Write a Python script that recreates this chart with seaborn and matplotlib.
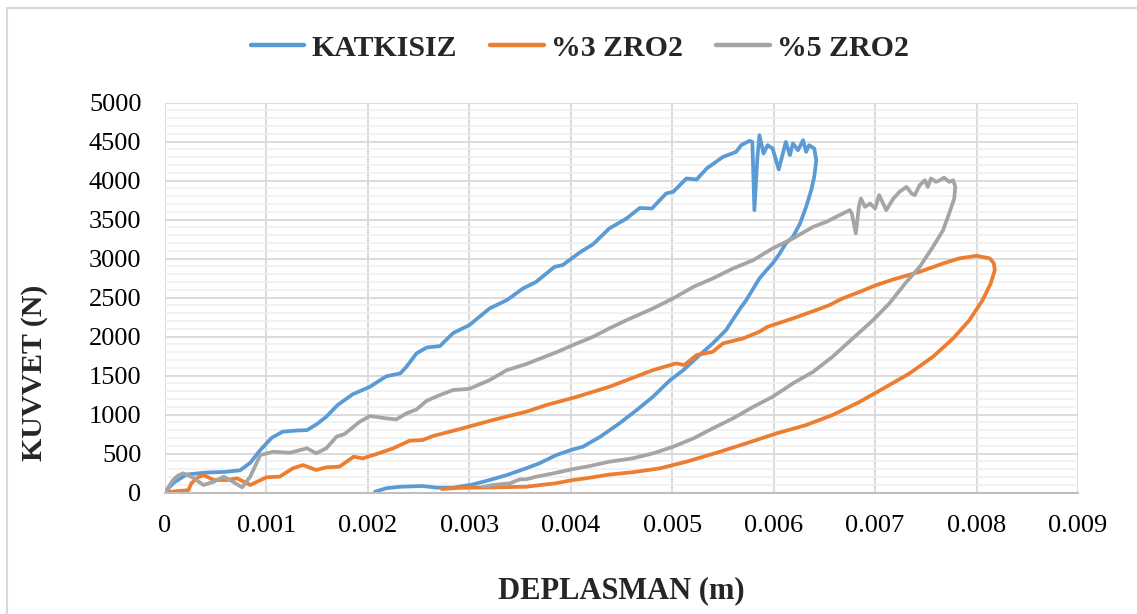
import numpy as np
import pandas as pd
import seaborn as sns
import matplotlib
matplotlib.use("Agg")
import matplotlib.pyplot as plt
from matplotlib.lines import Line2D
from matplotlib.ticker import MultipleLocator, FuncFormatter

# Load-displacement paths (loading branch followed by unloading branch)
series_names = ["KATKISIZ", "%3 ZRO2", "%5 ZRO2"]
series_colors = ["#5B9BD5", "#ED7D31", "#A5A5A5"]

katkisiz_x = [0, 0.00008, 0.00021, 0.0004, 0.0006, 0.00074, 0.00084, 0.00094, 0.00105, 0.00116,
              0.0013, 0.0014, 0.0015, 0.00159, 0.0017, 0.00185, 0.00202, 0.00218, 0.00232, 0.00238,
              0.00248, 0.00258, 0.00271, 0.00284, 0.003, 0.0032, 0.00337, 0.00353, 0.00366, 0.00384,
              0.00392, 0.00409, 0.00422, 0.00438, 0.00455, 0.00468, 0.0048, 0.00494, 0.00501, 0.00514,
              0.00524, 0.00534, 0.0055, 0.00563, 0.00568, 0.00576, 0.00579, 0.00581, 0.00584, 0.00586,
              0.0059, 0.00594, 0.00599, 0.00605, 0.00612, 0.00616, 0.00619, 0.00624, 0.00629, 0.00632,
              0.00635, 0.0064,
              0.00642, 0.0064, 0.00637, 0.00632, 0.00626, 0.00619, 0.00612, 0.00606, 0.00599, 0.00593,
              0.00586, 0.0058, 0.00573, 0.00567, 0.00553, 0.0054, 0.00527, 0.00511, 0.00498, 0.00481,
              0.00465, 0.00448, 0.00429, 0.00412, 0.004, 0.00386, 0.00369, 0.00356, 0.00337, 0.0032,
              0.00304, 0.00284, 0.00268, 0.00254, 0.00232, 0.00218, 0.00207]
katkisiz_y = [0, 120, 230, 255, 265, 285, 380, 545, 700, 780,
              795, 800, 880, 972, 1120, 1260, 1356, 1490, 1528, 1613,
              1785, 1860, 1878, 2045, 2147, 2361, 2468, 2618, 2703, 2895,
              2917, 3080, 3185, 3387, 3515, 3650, 3643, 3836, 3857, 4028,
              4015, 4156, 4305, 4369, 4455, 4510, 4497, 3622, 4305, 4583,
              4348, 4455, 4412, 4143, 4497, 4327, 4477, 4391, 4519, 4369,
              4455, 4412,
              4263, 4049, 3878, 3664, 3451, 3280, 3195, 3067, 2938, 2853,
              2746, 2618, 2468, 2361, 2083, 1913, 1763, 1570, 1442, 1228,
              1058, 887, 715, 587, 545, 481, 374, 310, 224, 160,
              105, 62, 62, 83, 74, 54, 10]

zro2_3_x = [0, 0.0001, 0.00023, 0.00026, 0.00032, 0.00038, 0.00048, 0.00061, 0.00071, 0.00084,
            0.001, 0.00113, 0.00126, 0.00136, 0.00149, 0.00159, 0.00172, 0.00186, 0.00195, 0.0021,
            0.00225, 0.00241, 0.00254, 0.00264, 0.00291, 0.00323, 0.00356, 0.00376, 0.00406, 0.00438,
            0.00481, 0.00504, 0.00512, 0.00524, 0.0054, 0.0055, 0.0057, 0.00586, 0.00594, 0.00619,
            0.00642, 0.00655, 0.00668, 0.00685, 0.00701, 0.00718, 0.00744, 0.00767, 0.00783, 0.008,
            0.00813, 0.00817, 0.00818, 0.00814, 0.00806, 0.00793, 0.00777, 0.00757, 0.00734, 0.00711,
            0.00685, 0.00658, 0.00632, 0.00603, 0.00573, 0.00547, 0.00514, 0.00488, 0.00461, 0.00438,
            0.00415, 0.00402, 0.00385, 0.00356, 0.00323, 0.00291, 0.00273]
zro2_3_y = [0, 15, 30, 118, 190, 224, 160, 160, 182, 96,
            195, 203, 310, 352, 288, 323, 331, 459, 438, 500,
            567, 664, 673, 724, 815, 929, 1036, 1122, 1228, 1356,
            1570, 1656, 1635, 1763, 1805, 1913, 1977, 2062, 2126, 2233,
            2340, 2404, 2490, 2575, 2660, 2733, 2831, 2938, 3003, 3036,
            3003, 2940, 2853, 2682, 2468, 2211, 1977, 1741, 1528, 1356,
            1164, 994, 865, 759, 631, 523, 395, 310, 260, 230,
            182, 160, 118, 74, 66, 60, 45]

zro2_5_x = [0, 0.00003, 0.00008, 0.00013, 0.00018, 0.00026, 0.00038, 0.00048, 0.00058, 0.00067,
            0.00076, 0.00084, 0.00094, 0.00107, 0.00123, 0.0014, 0.00149, 0.00159, 0.00169, 0.00177,
            0.00192, 0.00202, 0.00218, 0.00228, 0.00238, 0.00248, 0.00258, 0.00271, 0.00284, 0.003,
            0.0032, 0.00337, 0.00356, 0.00387, 0.00406, 0.00422, 0.00438, 0.00455, 0.00481, 0.00501,
            0.00521, 0.0054, 0.0056, 0.0058, 0.00599, 0.00619, 0.00639, 0.00652, 0.00665, 0.00675,
            0.00677, 0.00681, 0.00684, 0.00686, 0.0069, 0.00695, 0.007, 0.00704, 0.00711, 0.00718,
            0.00724, 0.00731, 0.00736, 0.00739, 0.00744, 0.00749, 0.00752, 0.00755, 0.0076, 0.00764,
            0.00768, 0.00773, 0.00777, 0.00779,
            0.00778, 0.00773, 0.00767, 0.00757, 0.00744, 0.00731, 0.00714, 0.00698, 0.00678, 0.00658,
            0.00639, 0.00619, 0.00599, 0.0058, 0.0056, 0.0054, 0.00521, 0.00501, 0.00481, 0.00461,
            0.00438, 0.00419, 0.00402, 0.00383, 0.00366, 0.00356, 0.0035, 0.0034, 0.00323, 0.00314]
zro2_5_y = [0, 60, 160, 220, 246, 203, 96, 138, 203, 138,
            66, 203, 481, 523, 510, 567, 502, 567, 715, 750,
            908, 981, 951, 938, 1015, 1066, 1177, 1250, 1314, 1330,
            1442, 1570, 1647, 1805, 1913, 1997, 2105, 2211, 2361, 2490,
            2639, 2746, 2874, 2981, 3131, 3259, 3408, 3472, 3558, 3622,
            3579, 3323, 3664, 3771, 3664, 3707, 3643, 3814, 3622, 3771,
            3856, 3920, 3835, 3814, 3942, 4006, 3920, 4028, 3985, 4006,
            4040, 3985, 4006, 3920,
            3771, 3579, 3365, 3151, 2895, 2703, 2425, 2211, 1977, 1741,
            1549, 1400, 1228, 1100, 951, 823, 695, 587, 502, 438,
            395, 340, 300, 246, 203, 169, 169, 118, 96, 74]

x_ticks = [0, 0.001, 0.002, 0.003, 0.004, 0.005, 0.006, 0.007, 0.008, 0.009]
y_ticks = list(range(0, 5001, 500))

frames = []
for name, xs, ys in zip(series_names,
                        [katkisiz_x, zro2_3_x, zro2_5_x],
                        [katkisiz_y, zro2_3_y, zro2_5_y]):
    frames.append(pd.DataFrame({"DEPLASMAN": xs, "KUVVET": ys, "seri": name,
                                "sira": np.arange(len(xs))}))
df = pd.concat(frames, ignore_index=True)

sns.set_style("white")
plt.rcParams["font.family"] = ["Liberation Serif", "DejaVu Serif"]

W, H = 1137, 614
fig = plt.figure(figsize=(W / 100, H / 100), dpi=100)
ax = fig.add_axes([165 / W, 1 - 492.5 / H, (1078 - 165) / W, (492.5 - 102.7) / H])

sns.lineplot(data=df, x="DEPLASMAN", y="KUVVET", hue="seri", hue_order=series_names,
             palette=series_colors, sort=False, estimator=None, units="seri",
             linewidth=2.7, ax=ax, legend=False,
             solid_joinstyle="round", solid_capstyle="round")

ax.set_xlim(0, 0.009)
ax.set_ylim(0, 5000)
ax.set_xticks(x_ticks)
ax.set_yticks(y_ticks)
ax.yaxis.set_minor_locator(MultipleLocator(100))
ax.xaxis.set_major_formatter(FuncFormatter(lambda v, p: "0" if abs(v) < 1e-12 else f"{v:.3f}"))
ax.tick_params(axis="both", which="both", length=0, labelsize=19, colors="black")
ax.tick_params(axis="x", pad=16)
ax.tick_params(axis="y", pad=17)

ax.grid(True, which="major", color="#D9D9D9", linewidth=1.3)
ax.grid(True, which="minor", axis="y", color="#EFEFEF", linewidth=1.1)
ax.set_axisbelow(True)
for side in ["top", "right", "left"]:
    ax.spines[side].set_visible(False)
ax.spines["bottom"].set_color("#BFBFBF")
ax.spines["bottom"].set_linewidth(1.5)

ax.set_xlabel("DEPLASMAN (m)", fontsize=22, fontweight="bold")
ax.set_ylabel("KUVVET (N)", fontsize=21.5, fontweight="bold")
ax.xaxis.set_label_coords(0.5, -0.214)
ax.yaxis.set_label_coords(-0.128, 0.308)

handles = [Line2D([0], [0], color=c, linewidth=3.2, solid_capstyle="round") for c in series_colors]
fig.legend(handles, series_names, loc="center", bbox_to_anchor=(0.51, 1 - 48 / H), ncol=3,
           frameon=False, prop={"size": 21.5, "weight": "bold"}, handlelength=1.8,
           handletextpad=0.25, columnspacing=1.1)

# outer chart frame
frame_color = "#D9D9D9"
fig.add_artist(Line2D([7 / W, 7 / W], [0, 1 - 8 / H], color=frame_color, linewidth=1.5))
fig.add_artist(Line2D([7 / W, 1], [1 - 8 / H, 1 - 8 / H], color=frame_color, linewidth=1.5))

fig.savefig("out.png", dpi=100)
